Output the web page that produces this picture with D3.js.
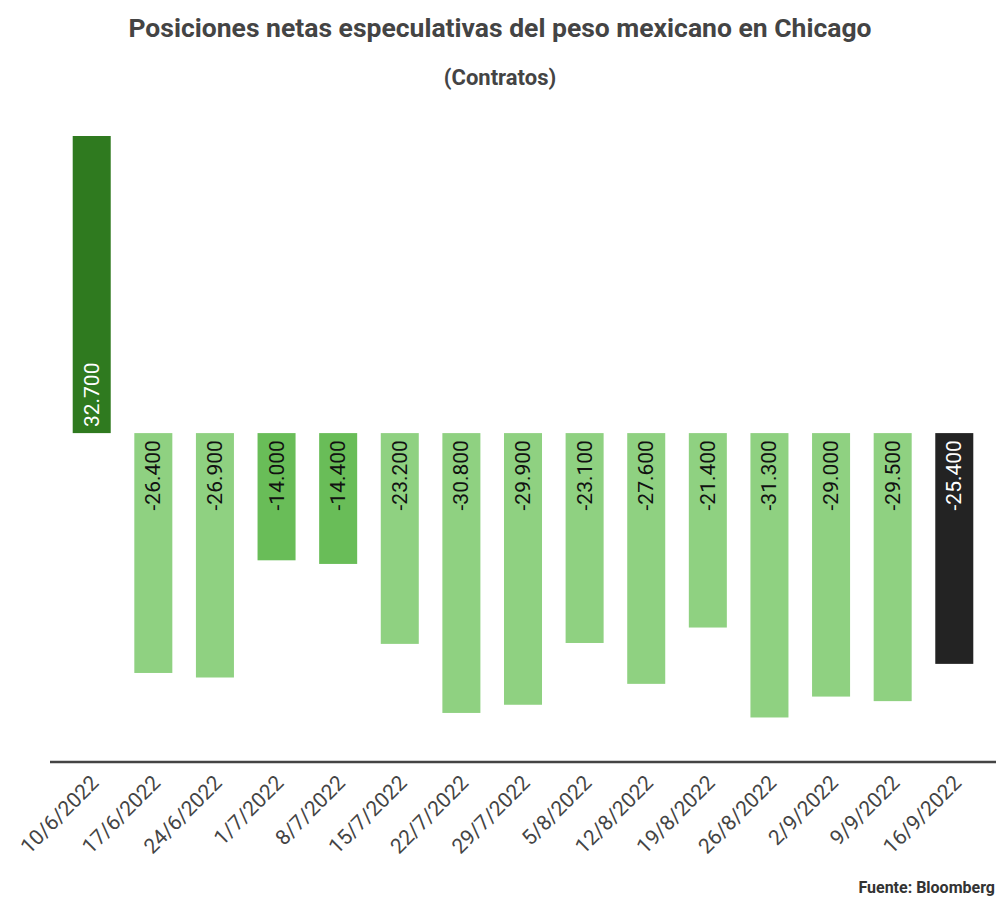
<!DOCTYPE html>
<html>
<head>
<meta charset="utf-8">
<script src="https://cdn.jsdelivr.net/npm/d3@7"></script>
<style>
  body { margin: 0; background: #fff; }
  text { font-family: Roboto, "Noto Sans", sans-serif; }
</style>
</head>
<body>
<div id="chart"></div>
<script>
// weekly net speculative positions, in contracts
const fechas = ["10/6/2022", "17/6/2022", "24/6/2022", "1/7/2022", "8/7/2022", "15/7/2022",
    "22/7/2022", "29/7/2022", "5/8/2022", "12/8/2022", "19/8/2022", "26/8/2022",
    "2/9/2022", "9/9/2022", "16/9/2022"];
const posiciones = [32700, -26400, -26900, -14000, -14400, -23200, -30800, -29900,
    -23100, -27600, -21400, -31300, -29000, -29500, -25400];

const width = 1000;
const height = 905;

const locale = d3.formatLocale({ decimal: ",", thousands: ".", grouping: [3], currency: ["$", ""], minus: "-" });
const fmt = locale.format(",d");

function barColor(v, i) {
    if (i === posiciones.length - 1) return "#232323";
    if (v > 0) return "#2f7a1f";
    if (v > -20000) return "#69bd58";
    return "#8fd181";
}

const svg = d3.select("#chart").append("svg")
    .attr("width", width)
    .attr("height", height);

svg.append("text")
    .attr("x", 500)
    .attr("y", 37)
    .attr("text-anchor", "middle")
    .style("font-size", "26.5px")
    .style("font-weight", "bold")
    .style("fill", "#444")
    .text("Posiciones netas especulativas del peso mexicano en Chicago");

svg.append("text")
    .attr("x", 500)
    .attr("y", 85)
    .attr("text-anchor", "middle")
    .style("font-size", "22px")
    .style("font-weight", "bold")
    .style("fill", "#444")
    .text("(Contratos)");

let data = fechas.map(function(f, i) { return { fecha: f, valor: posiciones[i], i: i }; });

let x = d3.scaleBand()
    .domain(fechas)
    .range([61, 985])
    .paddingInner(0.383)
    .paddingOuter(0.19);

let y = d3.scaleLinear()
    .domain([-36200, 32700])
    .range([762, 136]);

// bars
svg.selectAll(".bar")
    .data(data)
    .enter().append("rect")
    .attr("class", "bar")
    .attr("x", function(d) { return x(d.fecha); })
    .attr("width", x.bandwidth())
    .attr("y", function(d) { return y(Math.max(0, d.valor)); })
    .attr("height", function(d) { return Math.abs(y(d.valor) - y(0)); })
    .style("fill", function(d) { return barColor(d.valor, d.i); });

// value labels, rotated, at the base of each bar
svg.selectAll(".lbl")
    .data(data)
    .enter().append("text")
    .attr("class", "lbl")
    .attr("transform", function(d) {
        let cx = x(d.fecha) + x.bandwidth() / 2 + 7;
        let cy = d.valor > 0 ? y(0) - 6 : y(0) + 7;
        return "translate(" + cx + "," + cy + ") rotate(-90)";
    })
    .attr("text-anchor", function(d) { return d.valor > 0 ? "start" : "end"; })
    .style("font-size", "21px")
    .style("fill", function(d) { return (d.valor > 0 || d.i === posiciones.length - 1) ? "#fff" : "#111"; })
    .text(function(d) { return fmt(d.valor); });

// bottom axis
let xAxis = svg.append("g")
    .attr("transform", "translate(0," + y.range()[0] + ")")
    .call(d3.axisBottom(x).tickSize(0).tickPadding(0));

xAxis.select(".domain").remove();

svg.append("line")
    .attr("x1", 50)
    .attr("x2", 996)
    .attr("y1", y.range()[0])
    .attr("y2", y.range()[0])
    .style("stroke", "#444")
    .style("stroke-width", 2.5);

xAxis.selectAll("text")
    .attr("transform", "translate(3,17) rotate(-45)")
    .attr("text-anchor", "end")
    .attr("dy", "0.35em")
    .style("font-size", "21px")
    .style("font-family", "Roboto, sans-serif")
    .style("fill", "#444");

svg.append("text")
    .attr("x", 995)
    .attr("y", 893)
    .attr("text-anchor", "end")
    .style("font-size", "16px")
    .style("font-weight", "bold")
    .style("fill", "#333")
    .text("Fuente: Bloomberg");
</script>
</body>
</html>
